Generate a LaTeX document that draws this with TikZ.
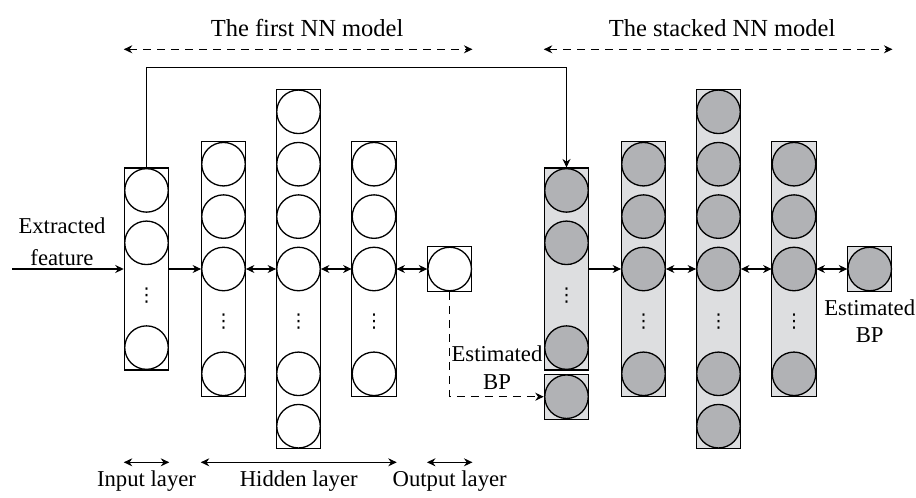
\documentclass[tikz,border=0pt]{standalone}
\usepackage{fontspec}
\setmainfont{Liberation Serif}
\newfontfamily\dotfont{DejaVu Sans}
\usetikzlibrary{positioning, arrows.meta}

\definecolor{boxgray}{RGB}{221,222,224}
\definecolor{unitgray}{RGB}{177,178,181}

\tikzset{
  unit/.style={circle, draw, line width=1.3pt, minimum size=43.5pt, inner sep=0pt},
  layer/.style={rectangle, draw, line width=1.1pt, minimum width=44.4pt, inner sep=0pt},
  dotnode/.style={inner sep=0pt, font=\dotfont\fontsize{19}{19}\selectfont},
  title/.style={font=\fontsize{24.5}{28}\selectfont},
  dasharrow/.style={dash pattern=on 8pt off 6pt},
}

\begin{document}
\begin{tikzpicture}[x=1pt, y=-1pt, line width=1.1pt, >={Stealth[length=8.5pt, width=8pt]}, font=\fontsize{22.7}{27.7}\selectfont]
  \useasboundingbox (0,0) rectangle (916,498);

  % both networks, the stacked one shifted right
  \foreach \net/\dx/\bfill/\ufill in {a/0/white/white, b/420/boxgray/unitgray} {
    % input layer
    \node[layer, fill=\bfill, minimum height=202pt] (\net-in) at (146.5+\dx, 269) {};
    \foreach \r [count=\i] in {-1.5, -0.5, 0.5, 1.5} {
      \ifnum\i=3
        \node[dotnode] (\net-in-\i) at (146.5+\dx, 269+52.4*\r) {⋮};
      \else
        \node[unit, fill=\ufill] (\net-in-\i) at (146.5+\dx, 269+52.4*\r) {};
      \fi
    }
    % hidden layers
    \foreach \h/\hx/\n in {h1/223.5/2, h2/298.5/3, h3/374/2} {
      \node[layer, fill=\bfill, minimum height={104.8*\n+45}] (\net-\h) at (\hx+\dx, 269) {};
      \foreach \r [count=\i] in {-\n,...,\n} {
        \ifnum\r=1
          \node[dotnode] (\net-\h-\i) at (\hx+\dx, 269+52.4*\r) {⋮};
        \else
          \node[unit, fill=\ufill] (\net-\h-\i) at (\hx+\dx, 269+52.4*\r) {};
        \fi
      }
    }
    % output layer
    \node[layer, fill=\bfill, minimum height=44.7pt] (\net-out) at (449.7+\dx, 269) {};
    \node[unit, fill=\ufill] (\net-out-1) at (\net-out) {};

    \draw[->] (\net-in) -- (\net-h1-3);
    \draw[<->] (\net-h1-3) -- (\net-h2-4);
    \draw[<->] (\net-h2-4) -- (\net-h3-3);
    \draw[<->] (\net-h3-3) -- (\net-out-1);
  }

  % estimate fed to the stacked model
  \node[layer, fill=boxgray, minimum height=44.7pt] (b-bp) at (566.5, 396.7) {};
  \node[unit, fill=unitgray] (b-bp-1) at (b-bp) {};

  % input feature
  \coordinate (feat) at (12, 269);
  \draw[->] (feat) -- (a-in);
  \node[align=center, inner sep=0pt, anchor=south] (feat-lbl) at (62, 266) {Extracted\\[4pt]feature};

  % feature also goes to the stacked model
  \coordinate (skip) at (0, 67.5);
  \draw[->] (a-in.north) -- (a-in.north |- skip) -| (b-in.north);

  \draw[->, dasharrow] (a-out.south) |- (b-bp);
  \node[align=center, inner sep=0pt, anchor=south] (est-a) at (497, 390) {Estimated\\BP};
  \node[align=center, inner sep=0pt, below=7pt of b-out] (est-b) {Estimated\\BP};

  % model spans
  \coordinate (top) at (0, 49.3);
  \draw[<->, dasharrow] (a-in.west |- top) -- (a-out.east |- top)
    node[midway, above=9pt, xshift=9pt, title] (ttl-a) {The first NN model};
  \draw[<->, dasharrow] (b-in.west |- top) -- (b-out.east |- top)
    node[midway, above=9pt, xshift=4pt, title] (ttl-b) {The stacked NN model};

  % layer spans
  \coordinate (span) at (0, 462.3);
  \draw[<->] (a-in.west |- span) -- (a-in.east |- span) node[midway, below=5pt] (lbl-in) {Input layer};
  \draw[<->] (a-h1.west |- span) -- (a-h3.east |- span) node[midway, below=5pt] (lbl-hid) {Hidden layer};
  \draw[<->] (a-out.west |- span) -- (a-out.east |- span) node[midway, below=5pt] (lbl-out) {Output layer};
\end{tikzpicture}
\end{document}
